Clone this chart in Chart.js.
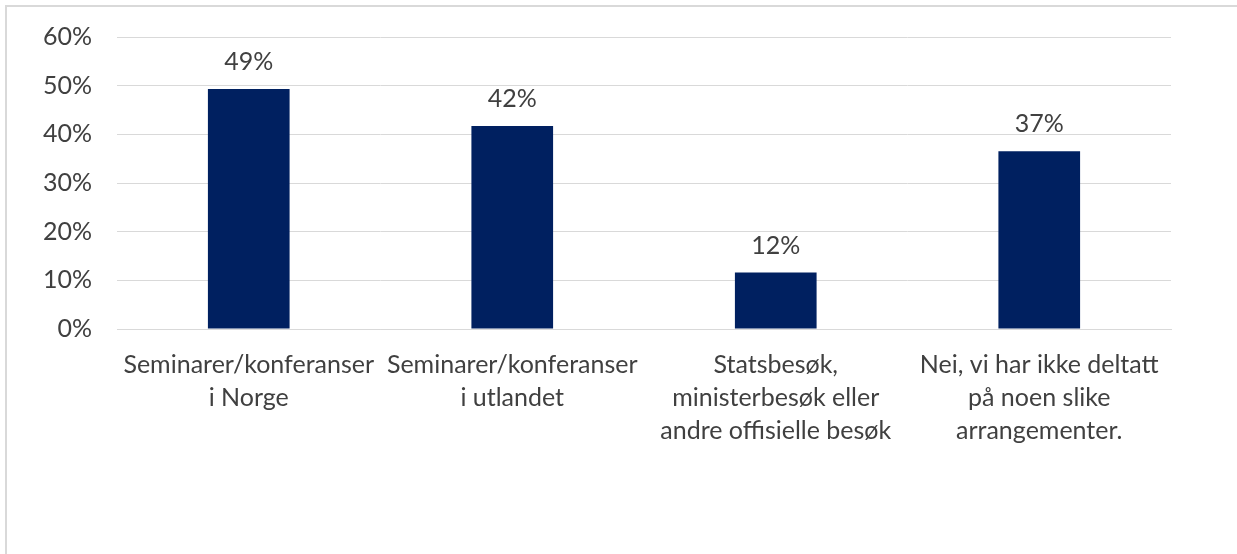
<!DOCTYPE html>
<html>
<head>
<meta charset="utf-8">
<script src="https://cdn.jsdelivr.net/npm/chart.js@4.4.1/dist/chart.umd.min.js"></script>
<style>
  html, body { margin: 0; padding: 0; background: #ffffff; overflow: hidden; }
  #wrap { position: relative; width: 1237px; height: 554px; }
  #frame { position: absolute; left: 5px; top: 5px; width: 1300px; height: 600px;
           border-top: 2px solid #d9d9d9; border-left: 2px solid #d9d9d9; }
  #c { position: absolute; left: 0; top: 0; }
</style>
</head>
<body>
<div id="wrap">
  <div id="frame"></div>
  <canvas id="c" width="1237" height="554"></canvas>
</div>
<script>
const categories = [
  ["Seminarer/konferanser", "i Norge"],
  ["Seminarer/konferanser", "i utlandet"],
  ["Statsbesøk,", "ministerbesøk eller", "andre offisielle besøk"],
  ["Nei, vi har ikke deltatt", "på noen slike", "arrangementer."]
];
const values = [49.3, 41.7, 11.6, 36.5];
const yTicks = [0, 10, 20, 30, 40, 50, 60];

const FONT = "Lato, 'Open Sans', sans-serif";
const TEXT = "#404040";

const dataLabels = {
  id: "dataLabels",
  afterDatasetsDraw(chart) {
    const ctx = chart.ctx;
    const meta = chart.getDatasetMeta(0);
    ctx.save();
    ctx.font = "25px " + FONT;
    ctx.fillStyle = TEXT;
    ctx.textAlign = "center";
    ctx.textBaseline = "middle";
    meta.data.forEach((bar, i) => {
      ctx.fillText(Math.round(values[i]) + "%", bar.x, bar.y - 27);
    });
    ctx.restore();
  }
};

new Chart(document.getElementById("c"), {
  type: "bar",
  data: {
    labels: categories,
    datasets: [{
      data: values,
      backgroundColor: "#002060",
      borderWidth: 0,
      barPercentage: 0.31,
      categoryPercentage: 1.0
    }]
  },
  options: {
    responsive: false,
    animation: false,
    devicePixelRatio: 1,
    layout: { padding: { top: 37, right: 66, left: 0, bottom: 0 } },
    plugins: { legend: { display: false }, tooltip: { enabled: false } },
    scales: {
      x: {
        grid: { display: false, drawTicks: false },
        border: { display: true, color: "#d9d9d9", width: 1 },
        ticks: {
          color: TEXT,
          font: { family: FONT, size: 25, lineHeight: 1.32 },
          padding: 19,
          maxRotation: 0,
          autoSkip: false
        },
        afterFit(scale) { scale.height = 225; scale.paddingLeft = 0; scale.paddingRight = 0; }
      },
      y: {
        min: 0,
        max: 60,
        afterBuildTicks(scale) { scale.ticks = yTicks.map(v => ({ value: v })); },
        grid: { color: "#d9d9d9", lineWidth: 1, drawTicks: false },
        border: { display: false },
        ticks: {
          color: TEXT,
          font: { family: FONT, size: 25 },
          padding: 25,
          callback: v => v + "%"
        },
        afterFit(scale) { scale.width = 117; scale.paddingTop = 0; scale.paddingBottom = 0; }
      }
    }
  },
  plugins: [dataLabels]
});
</script>
</body>
</html>
